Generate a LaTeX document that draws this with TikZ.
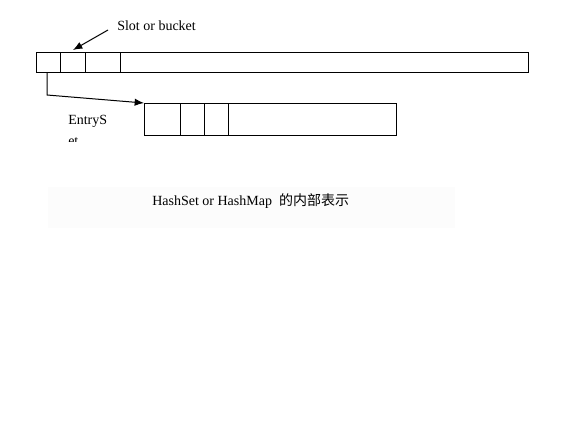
\documentclass[tikz,border=0pt]{standalone}
\usepackage{fontspec}
\setmainfont{Liberation Serif}
\newfontfamily\cjk{Noto Sans CJK SC}
\usetikzlibrary{arrows.meta}
\begin{document}
\begin{tikzpicture}[x=0.75pt,y=-0.75pt,
  cell/.style={draw=black,line width=0.75pt},
  conn/.style={draw=black,line width=0.75pt,-{Latex[length=7pt,width=5.5pt]}},
  lbl/.style={font=\fontsize{10.5pt}{14pt}\selectfont,inner sep=0pt}]
\useasboundingbox[fill=white] (0,0) rectangle (577,432);
% faint caption background
\fill[white!99!black] (48,187) rectangle (455,228);
% top bar
\draw[cell] (36,52) rectangle (528,72);
\draw[cell] (60,52) -- (60,72);
\draw[cell] (85,52) -- (85,72);
\draw[cell] (120,52) -- (120,72);
\coordinate (slot) at (73,50);
\coordinate (bucketstart) at (47,72);
% second bar
\draw[cell] (144,103) rectangle (396,135);
\draw[cell] (180,103) -- (180,135);
\draw[cell] (204,103) -- (204,135);
\draw[cell] (228,103) -- (228,135);
\coordinate (entry) at (144,103);
% labels
\node[lbl,anchor=base west] (slotlbl) at (117,30) {Slot or bucket};
\coordinate (slotarrow) at (108,30);
\draw[conn] (slotarrow) -- (slot);
\draw[conn] (bucketstart) -- (47,95) -- (entry);
\begin{scope}
\clip (60,106) rectangle (112,141);
\node[lbl,font=\fontsize{10.5pt}{16pt}\selectfont,anchor=north west,align=left] (entryset) at (68,115) {EntryS\\et};
\end{scope}
\node[lbl,anchor=base west] (caption) at (152,205) {HashSet or HashMap\ \ {\cjk 的内部表示}};
\end{tikzpicture}
\end{document}
